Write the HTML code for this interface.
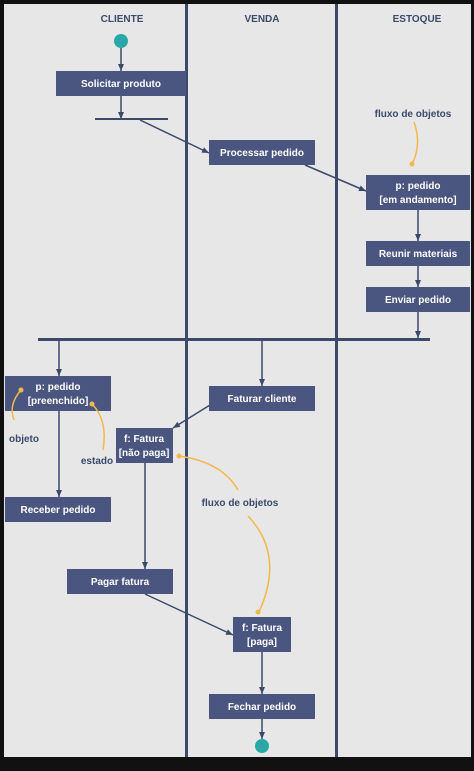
<!DOCTYPE html><html><head><style>body{margin:0;background:#111}svg{display:block}text{font-family:"Liberation Sans",sans-serif;font-weight:bold}</style></head><body>
<svg width="474" height="771" viewBox="0 0 474 771">
<defs><marker id="a" markerWidth="8" markerHeight="8" refX="7" refY="4" orient="auto" markerUnits="userSpaceOnUse"><path d="M0,1 L7,4 L0,7z" fill="#3b4a6b"/></marker></defs>
<rect x="4" y="4" width="467" height="753" fill="#e7e7e7"/>
<g fill="#3b4a6b"><rect x="185" y="4" width="3" height="753"/><rect x="335" y="4" width="3" height="753"/></g>
<g font-size="10" fill="#3b4a6b" text-anchor="middle"><text x="122" y="22">CLIENTE</text><text x="262" y="22">VENDA</text><text x="417" y="22">ESTOQUE</text></g>
<g stroke="#3b4a6b" stroke-width="1.5" fill="none" marker-end="url(#a)">
<line x1="121" y1="48" x2="121" y2="71"/><line x1="121" y1="96" x2="121" y2="119"/>
<line x1="140" y1="120" x2="209" y2="153"/><line x1="305" y1="165" x2="366" y2="191"/>
<line x1="418" y1="210" x2="418" y2="241"/><line x1="418" y1="266" x2="418" y2="287"/><line x1="418" y1="312" x2="418" y2="338"/>
<line x1="59" y1="340" x2="59" y2="376"/><line x1="262" y1="340" x2="262" y2="386"/>
<line x1="210" y1="405" x2="173" y2="428"/><line x1="59" y1="411" x2="59" y2="497"/>
<line x1="145" y1="463" x2="145" y2="569"/><line x1="145" y1="594" x2="233" y2="635"/>
<line x1="262" y1="652" x2="262" y2="694"/><line x1="262" y1="719" x2="262" y2="739"/>
</g>
<rect x="95" y="118" width="73" height="2" fill="#3b4a6b"/>
<rect x="38" y="338" width="392" height="3" fill="#3b4a6b"/>
<g fill="#4a5580"><rect x="56" y="71" width="130" height="25"/><rect x="209" y="140" width="106" height="25"/><rect x="366" y="175" width="104" height="35"/><rect x="366" y="241" width="104" height="25"/><rect x="366" y="287" width="104" height="25"/><rect x="5" y="376" width="106" height="35"/><rect x="209" y="386" width="106" height="25"/><rect x="116" y="428" width="57" height="35"/><rect x="5" y="497" width="106" height="25"/><rect x="67" y="569" width="106" height="25"/><rect x="233" y="617" width="58" height="35"/><rect x="209" y="694" width="106" height="25"/></g>
<g font-size="10" fill="#fff" text-anchor="middle">
<text x="121" y="87">Solicitar produto</text><text x="262" y="156">Processar pedido</text>
<text x="418" y="189">p: pedido</text><text x="418" y="203">[em andamento]</text>
<text x="418" y="257">Reunir materiais</text><text x="418" y="303">Enviar pedido</text>
<text x="58" y="390">p: pedido</text><text x="58" y="404">[preenchido]</text>
<text x="262" y="402">Faturar cliente</text>
<text x="144" y="442">f: Fatura</text><text x="144" y="456">[não paga]</text>
<text x="58" y="513">Receber pedido</text><text x="120" y="585">Pagar fatura</text>
<text x="262" y="631">f: Fatura</text><text x="262" y="645">[paga]</text>
<text x="262" y="710">Fechar pedido</text></g>
<g font-size="10" fill="#3b4a6b" text-anchor="middle"><text x="413" y="117">fluxo de objetos</text><text x="24" y="442">objeto</text><text x="97" y="464">estado</text><text x="240" y="506">fluxo de objetos</text></g>
<g stroke="#f2b84b" stroke-width="1.5" fill="none"><path d="M414,122 Q422,145 412,164"/><path d="M21,390 Q8,405 14,420"/><path d="M92,404 Q108,420 103,450"/><path d="M179,456 Q222,462 238,490"/><path d="M248,516 Q285,555 259,612"/></g>
<g fill="#f2b84b"><circle cx="412" cy="164" r="2.5"/><circle cx="21" cy="390" r="2.5"/><circle cx="92" cy="404" r="2.5"/><circle cx="179" cy="456" r="2.5"/><circle cx="258" cy="612" r="2.5"/></g>
<g fill="#2aa8a8"><circle cx="121" cy="41" r="7"/><circle cx="262" cy="746" r="7"/></g>
</svg></body></html>
